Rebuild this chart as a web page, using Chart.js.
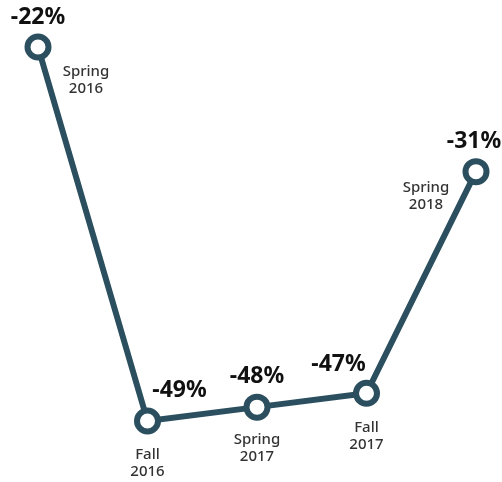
<!DOCTYPE html>
<html>
<head>
<meta charset="utf-8">
<script src="https://cdn.jsdelivr.net/npm/chart.js@4.4.1/dist/chart.umd.min.js"></script>
<style>
  html, body { margin: 0; padding: 0; background: #fff; }
  #wrap { width: 502px; height: 482px; }
</style>
</head>
<body>
<div id="wrap"><canvas id="trendChart"></canvas></div>
<script>
// Semestres et variations
const terms = [['Spring', '2016'], ['Fall', '2016'], ['Spring', '2017'], ['Fall', '2017'], ['Spring', '2018']];
const changes = [-22, -49, -48, -47, -31];

// Décalages des étiquettes par rapport au point (dx, dy)
const valueOffsets = [[0, -30], [32, -31], [0, -31], [-28, -29], [-2, -30]];
const termOffsets = [[48, 25], [0, 34], [0, 33], [0, 34], [-50, 16]];

const lineColor = '#2b4f5f';

const labelPlugin = {
    id: 'pointLabels',
    afterDatasetsDraw(chart) {
        const ctx = chart.ctx;
        const meta = chart.getDatasetMeta(0);
        ctx.save();
        ctx.textAlign = 'center';
        ctx.textBaseline = 'middle';
        meta.data.forEach(function (pt, i) {
            // valeur en pourcentage
            ctx.fillStyle = '#111';
            ctx.font = 'bold 23px "Noto Sans", sans-serif';
            ctx.fillText(changes[i] + '%', pt.x + valueOffsets[i][0], pt.y + valueOffsets[i][1]);
            // nom du semestre sur deux lignes
            ctx.fillStyle = '#333';
            ctx.font = '500 15px "Noto Sans", sans-serif';
            const tx = pt.x + termOffsets[i][0];
            const ty = pt.y + termOffsets[i][1];
            ctx.fillText(terms[i][0], tx, ty);
            ctx.fillText(terms[i][1], tx, ty + 17);
        });
        ctx.restore();
    }
};

const ctx = document.getElementById('trendChart').getContext('2d');
new Chart(ctx, {
    type: 'line',
    data: {
        labels: terms.map(t => t.join(' ')),
        datasets: [{
            data: changes,
            borderColor: lineColor,
            borderWidth: 6,
            tension: 0,
            pointRadius: 10.5,
            pointBorderWidth: 6,
            pointBackgroundColor: '#fff',
            pointBorderColor: lineColor,
            clip: false
        }]
    },
    options: {
        responsive: true,
        maintainAspectRatio: false,
        animation: false,
        layout: { padding: { left: 38, right: 26, top: 47, bottom: 61 } },
        plugins: {
            legend: { display: false },
            tooltip: { enabled: false }
        },
        scales: {
            x: { display: false, offset: false },
            y: { display: false, min: -49, max: -22 }
        }
    },
    plugins: [labelPlugin]
});
</script>
</body>
</html>
